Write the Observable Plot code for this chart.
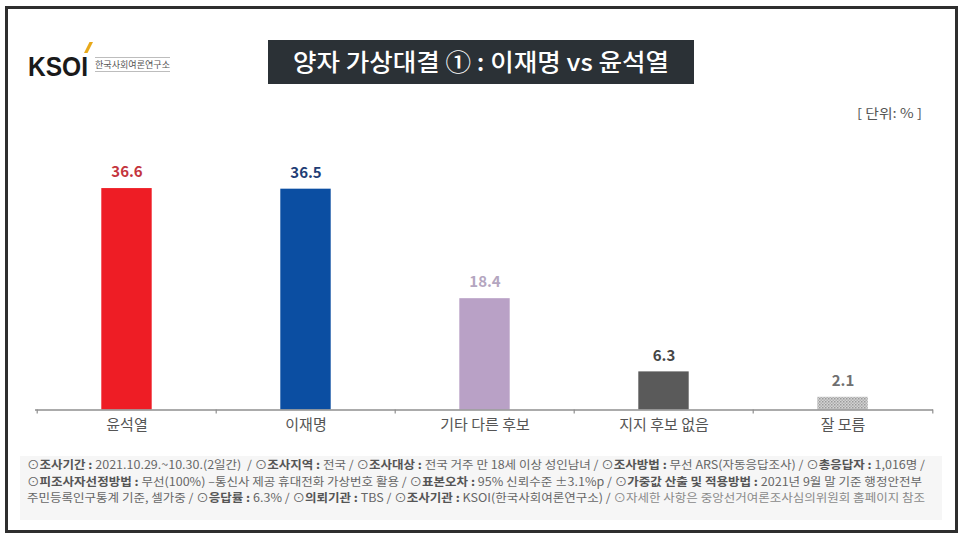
<!DOCTYPE html>
<html>
<head>
<meta charset="utf-8">
<script src="https://cdn.jsdelivr.net/npm/d3@7"></script>
<script src="https://cdn.jsdelivr.net/npm/@observablehq/plot@0.6"></script>
<style>
  html, body { margin: 0; padding: 0; background: #ffffff; }
  #wrap { position: relative; width: 970px; height: 545px; overflow: hidden; font-family: "Noto Sans CJK KR", "Noto Sans", sans-serif; }
  #deco { position: absolute; left: 0; top: 0; }
  #chart { position: absolute; left: 0; top: 140px; }
  text { white-space: pre; }
</style>
</head>
<body>
<div id="wrap">
  <svg id="deco" width="970" height="545" xmlns="http://www.w3.org/2000/svg"></svg>
  <div id="chart"></div>
</div>
<script>
// ---- data ----
const categories = ["윤석열", "이재명", "기타 다른 후보", "지지 후보 없음", "잘 모름"];
const values = [36.6, 36.5, 18.4, 6.3, 2.1];
const barColors = ["#ee1d25", "#0b4ea2", "#b9a1c6", "#5a5a5a", "url(#dots)"];
const labelColors = ["#c4343d", "#1f3d75", "#b4a6c0", "#454545", "#707070"];

const titleText = "양자 가상대결 ① : 이재명 vs 윤석열";
const unitText = "[ 단위: % ]";
const logoText = "KSOI";
const logoSub = "한국사회여론연구소";

// footer lines: [style, text] ; b = bold label, r = regular, l = light
const footer1 = [["r","⊙"],["b","조사기간 : "],["r","2021.10.29.~10.30.(2일간)  / ⊙"],["b","조사지역 : "],["r","전국 / ⊙"],["b","조사대상 : "],["r","전국 거주 만 18세 이상 성인남녀 / ⊙"],["b","조사방법 : "],["r","무선 ARS(자동응답조사) / ⊙"],["b","총응답자 : "],["r","1,016명 /"]];
const footer2 = [["r","⊙"],["b","피조사자선정방법 : "],["r","무선(100%) –통신사 제공 휴대전화 가상번호 활용 / ⊙"],["b","표본오차 : "],["r","95% 신뢰수준 ±3.1%p / ⊙"],["b","가중값 산출 및 적용방법 : "],["r","2021년 9월 말 기준 행정안전부"]];
const footer3 = [["r","주민등록인구통계 기준, 셀가중 / ⊙"],["b","응답률 : "],["r","6.3% / ⊙"],["b","의뢰기관 : "],["r","TBS / ⊙"],["b","조사기관 : "],["r","KSOI(한국사회여론연구소) / "],["l","⊙자세한 사항은 중앙선거여론조사심의위원회 홈페이지 참조"]];

const data = categories.map((c, i) => ({cat: c, value: values[i], bar: barColors[i], label: labelColors[i]}));

// ---- decoration (frame, logo, title, footer) ----
const NS = "http://www.w3.org/2000/svg";
const deco = document.getElementById("deco");
function el(tag, attrs, parent = deco) {
  const e = document.createElementNS(NS, tag);
  for (const k in attrs) e.setAttribute(k, attrs[k]);
  parent.appendChild(e);
  return e;
}
const defs = el("defs", {});
const pat = el("pattern", {id: "dots", width: 3, height: 3, patternUnits: "userSpaceOnUse"}, defs);
el("rect", {x: 0, y: 0, width: 3, height: 3, fill: "#d4d4d4"}, pat);
el("rect", {x: 0, y: 0, width: 1.5, height: 1.5, fill: "#9a9a9a"}, pat);
el("rect", {x: 1.5, y: 1.5, width: 1.5, height: 1.5, fill: "#b0b0b0"}, pat);

el("rect", {x: 6.5, y: 7.5, width: 950, height: 524, fill: "#ffffff", stroke: "#2e2e2e", "stroke-width": 3});

// logo
const lg = el("text", {x: 28, y: 76, "font-family": "Liberation Sans, Arial, sans-serif", "font-weight": "bold", "font-size": 27, fill: "#1a1a1a", textLength: 60, lengthAdjust: "spacingAndGlyphs"});
lg.textContent = logoText;
el("polygon", {points: "84,53 87.5,53 93,42 89.5,42", fill: "#e8a91a"});
el("line", {x1: 95, x2: 170, y1: 57.5, y2: 57.5, stroke: "#bdbdbd", "stroke-width": 1});
el("line", {x1: 95, x2: 170, y1: 71.5, y2: 71.5, stroke: "#bdbdbd", "stroke-width": 1});
const ls = el("text", {x: 95, y: 67.5, "font-size": 9, fill: "#555", textLength: 75, lengthAdjust: "spacingAndGlyphs"});
ls.textContent = logoSub;

// title
el("rect", {x: 268, y: 40, width: 426, height: 44, fill: "#2b3136"});
const tt = el("text", {x: 481, y: 71, "text-anchor": "middle", "font-size": 24, "font-weight": 500, fill: "#ffffff", textLength: 376, lengthAdjust: "spacingAndGlyphs"});
tt.textContent = titleText;

// unit
const ut = el("text", {x: 922, y: 117.5, "text-anchor": "end", "font-size": 13, fill: "#555", textLength: 65, lengthAdjust: "spacingAndGlyphs"});
ut.textContent = unitText;

// footer
el("rect", {x: 20, y: 456, width: 922, height: 64, fill: "#f6f6f6"});
function footerLine(parts, y, len) {
  const t = el("text", {x: 27, y, "font-size": 11.5, fill: "#666", textLength: len, lengthAdjust: "spacingAndGlyphs"});
  for (const [s, txt] of parts) {
    const ts = el("tspan", {}, t);
    if (s === "b") { ts.setAttribute("font-weight", "bold"); ts.setAttribute("fill", "#555"); }
    if (s === "l") { ts.setAttribute("fill", "#8a8a8a"); }
    ts.textContent = txt;
  }
}
footerLine(footer1, 469, 898);
footerLine(footer2, 486, 895);
footerLine(footer3, 502, 898);

// ---- chart ----
const W = 970, ML = 35, MR = 37;
const step = (W - ML - MR) / categories.length;
const chart = Plot.plot({
  width: W,
  height: 300,
  marginLeft: ML,
  marginRight: MR,
  marginTop: 27.5,
  marginBottom: 30.5,
  style: {background: "transparent", fontFamily: "'Noto Sans CJK KR', 'Noto Sans', sans-serif", overflow: "visible"},
  x: {domain: categories, padding: 0, label: null, axis: null},
  y: {domain: [0, 40], axis: null},
  color: {type: "identity"},
  marks: [
    Plot.barY(data, {x: "cat", y: "value", fill: "bar", insetLeft: 64.3, insetRight: 64.3}),
    Plot.ruleY([0], {stroke: "#8f8f8f", strokeWidth: 1.6}),
    Plot.ruleX(categories, {x: d => d, y1: 0, y2: 0, insetBottom: -4, dx: -step / 2, stroke: "#8f8f8f", strokeWidth: 1.2}),
    Plot.ruleX(categories.slice(-1), {x: d => d, y1: 0, y2: 0, insetBottom: -4, dx: step / 2, stroke: "#8f8f8f", strokeWidth: 1.2}),
    Plot.text(data, {x: "cat", y: "value", text: d => d.value.toFixed(1), fill: "label", dy: -16, fontWeight: "bold", fontSize: 15}),
    Plot.axisX({tickSize: 0, tickPadding: 9, fontSize: 15, color: "#555", label: null})
  ]
});
document.getElementById("chart").appendChild(chart);
</script>
</body>
</html>
